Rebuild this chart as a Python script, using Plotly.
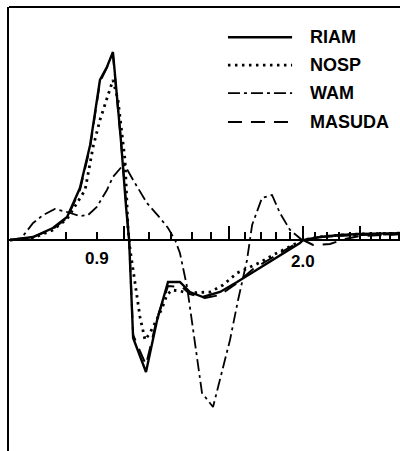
import plotly.graph_objects as go

# Frequency (Hz) and normalised energy difference for each model
riam_f = [0.643, 0.703, 0.759, 0.802, 0.843, 0.877, 0.911, 0.936, 0.958, 0.988,
          1.008, 1.020, 1.036, 1.089, 1.137, 1.186, 1.242, 1.291, 1.358, 1.451,
          1.550, 1.662, 1.761, 1.866, 1.978, 2.002, 2.138, 2.310, 2.497, 3.0]
riam_e = [0.00, 0.03, 0.12, 0.23, 0.52, 0.95, 1.60, 1.73, 1.88, 1.00,
          0.33, 0.00, -0.98, -1.32, -0.80, -0.42, -0.42, -0.52, -0.57, -0.52,
          -0.42, -0.31, -0.22, -0.12, -0.03, 0.00, 0.03, 0.05, 0.06, 0.07]

nosp_f = [0.643, 0.703, 0.759, 0.802, 0.860, 0.887, 0.911, 0.936, 0.958, 0.977,
          1.004, 1.016, 1.024, 1.036, 1.052, 1.064, 1.085, 1.106, 1.128, 1.159,
          1.181, 1.204, 1.242, 1.277, 1.396, 1.468, 1.550, 1.687, 1.782, 1.881,
          2.002, 2.138, 2.310, 2.497, 3.0]
nosp_e = [0.00, 0.02, 0.10, 0.21, 0.50, 0.93, 1.20, 1.42, 1.60, 1.40,
          0.80, 0.10, -0.10, -0.30, -0.57, -0.77, -1.00, -0.93, -0.83, -0.68,
          -0.55, -0.50, -0.51, -0.53, -0.52, -0.45, -0.33, -0.23, -0.15, -0.08,
          0.00, 0.03, 0.05, 0.06, 0.07]

wam_f = [0.643, 0.668, 0.703, 0.731, 0.765, 0.802, 0.843, 0.870, 0.900, 0.936,
         0.958, 1.000, 1.036, 1.093, 1.150, 1.186, 1.219, 1.242, 1.277, 1.307,
         1.327, 1.353, 1.412, 1.468, 1.508, 1.556, 1.611, 1.643, 1.707, 1.775,
         1.830, 1.903, 1.994, 2.138, 2.497, 3.0]
wam_e = [0.00, 0.00, 0.17, 0.25, 0.31, 0.28, 0.24, 0.25, 0.33, 0.50,
         0.63, 0.76, 0.60, 0.37, 0.22, 0.12, 0.00, -0.13, -0.47, -0.90,
         -1.20, -1.53, -1.67, -1.27, -1.00, -0.60, -0.20, 0.15, 0.42, 0.45,
         0.27, 0.10, 0.00, 0.03, 0.05, 0.06]

masuda_f = [0.643, 0.703, 0.759, 0.802, 0.843, 0.877, 0.911, 0.936, 0.958, 0.988,
            1.008, 1.020, 1.036, 1.089, 1.137, 1.186, 1.252, 1.291, 1.369, 1.451,
            1.550, 1.649, 1.761, 1.866, 2.002, 2.081, 2.222, 2.356, 2.497, 3.0]
masuda_e = [0.00, 0.03, 0.11, 0.22, 0.50, 0.93, 1.58, 1.72, 1.85, 1.00,
            0.33, 0.00, -0.95, -1.25, -0.78, -0.46, -0.47, -0.54, -0.58, -0.55,
            -0.43, -0.29, -0.19, -0.10, 0.00, -0.05, -0.04, 0.01, 0.04, 0.06]

series_names = ["RIAM", "NOSP", "WAM", "MASUDA"]
labelled_ticks = ["0.9", "2.0"]
long_ticks = [1.0, 1.5, 2.0, 2.5]
short_ticks = [0.8, 0.9, 1.1, 1.2, 1.3, 1.4, 1.6, 1.7, 1.8, 1.9,
               2.1, 2.2, 2.3, 2.4, 2.6, 2.7, 2.8, 2.9]

styles = {
    "RIAM": dict(color="black", width=2.4, dash="solid"),
    "NOSP": dict(color="black", width=2.8, dash="2.5px,4.5px"),
    "WAM": dict(color="black", width=1.8, dash="12px,4px,3px,4px"),
    "MASUDA": dict(color="black", width=2.0, dash="14px,9px"),
}

data = {
    "RIAM": (riam_f, riam_e),
    "NOSP": (nosp_f, nosp_e),
    "WAM": (wam_f, wam_e),
    "MASUDA": (masuda_f, masuda_e),
}

fig = go.Figure()
for name in series_names:
    f, e = data[name]
    fig.add_trace(go.Scatter(x=f, y=e, mode="lines", name=name,
                             line=styles[name], showlegend=False))

y_lo, y_hi = -2.11, 2.33
zero_pos = -y_lo / (y_hi - y_lo)
x_lo, x_hi = -0.1936, 0.4646

font_tick = dict(family="Liberation Sans, Arial, sans-serif", size=17,
                 color="black")
font_key = dict(family="Liberation Sans, Arial, sans-serif", size=18,
                color="black")


def bold(s):
    return "<b>" + s + "</b>" if s else ""


fig.update_layout(
    width=400, height=451,
    margin=dict(l=9, r=0, t=7, b=0, pad=0),
    paper_bgcolor="white", plot_bgcolor="white",
    xaxis=dict(
        type="log", range=[x_lo, x_hi],
        anchor="free", position=zero_pos,
        showline=True, linecolor="black", linewidth=2.2,
        showgrid=False, zeroline=False,
        tickmode="array", tickvals=long_ticks,
        ticktext=["", "", bold(labelled_ticks[1]), ""],
        ticks="inside", ticklen=13, tickwidth=1.8, tickcolor="black",
        minor=dict(tickmode="array", tickvals=short_ticks,
                   ticks="inside", ticklen=7, tickwidth=1.6,
                   tickcolor="black", showgrid=False),
        tickfont=font_tick,
        ticklabelstandoff=5,
    ),
    yaxis=dict(
        range=[y_lo, y_hi],
        showline=True, linecolor="black", linewidth=2.2,
        showgrid=False, zeroline=False,
        ticks="", showticklabels=False,
    ),
)

# label for the 0.9 Hz tick, placed just under the frequency axis
fig.add_annotation(x=-0.0458, y=0, xref="x", yref="y",
                   text=bold(labelled_ticks[0]), showarrow=False,
                   yanchor="top", yshift=-7, font=font_tick)

# top frame line
fig.add_shape(type="line", xref="paper", yref="paper",
              x0=0, x1=1, y0=1, y1=1,
              line=dict(color="black", width=2.2))

# key: line sample and name for each model
key_rows = [0.932, 0.869, 0.806, 0.741]
for name, yk in zip(series_names, key_rows):
    st = styles[name]
    fig.add_shape(type="line", xref="paper", yref="paper",
                  x0=0.560, x1=0.724, y0=yk, y1=yk,
                  line=dict(color="black", width=st["width"], dash=st["dash"]))
    fig.add_annotation(x=0.765, y=yk, xref="paper", yref="paper",
                       text=bold(name), showarrow=False, xanchor="left",
                       yanchor="middle", font=font_key)

fig.write_html("out.html")
